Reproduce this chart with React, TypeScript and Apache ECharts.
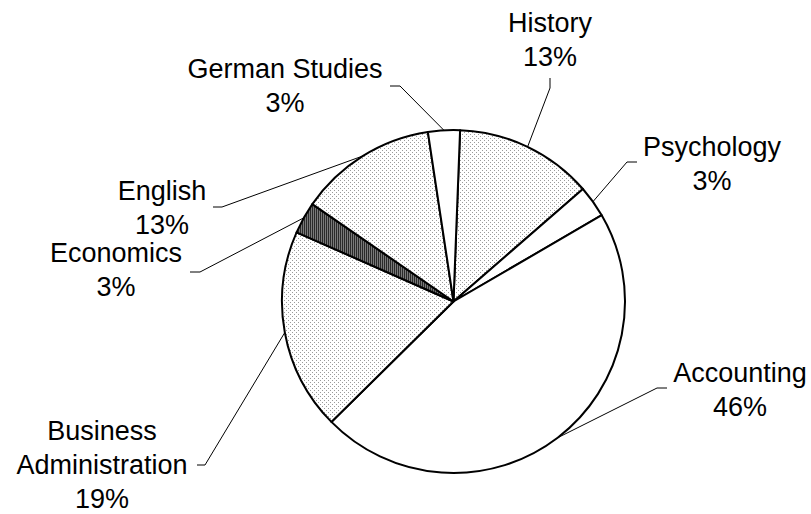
import React, { useEffect, useRef } from "react";
import * as echarts from "echarts";

// Data (clockwise from 12 o'clock)
const categories = [
  "History",
  "Psychology",
  "Accounting",
  "Business Administration",
  "Economics",
  "English",
  "German Studies",
];
const shares = [13, 3, 46, 19, 3, 13, 3];
const fillKinds = ["dots", "plain", "plain", "dots", "stripes", "dots", "plain"];

// Label placement (text block centre x, top y, leader knee and end)
const labelPlacement = [
  { cx: 550, top: 6, kx: 550, ky: 88, ex: 550, ey: 78 },
  { cx: 712, top: 130, kx: 627, ky: 162, ex: 637, ey: 162 },
  { cx: 740, top: 356, kx: 657, ky: 388, ex: 667, ey: 388 },
  { cx: 102, top: 414, kx: 205, ky: 465, ex: 197, ey: 465 },
  { cx: 116, top: 236, kx: 200, ky: 272, ex: 190, ey: 272 },
  { cx: 162, top: 174, kx: 222, ky: 207, ex: 213, ey: 207 },
  { cx: 285, top: 52, kx: 400, ky: 86, ex: 390, ey: 86 },
];

function makeTile(kind: string): string {
  const c = document.createElement("canvas");
  if (kind === "dots") {
    c.width = 4;
    c.height = 4;
    const g = c.getContext("2d")!;
    g.fillStyle = "#ffffff";
    g.fillRect(0, 0, 4, 4);
    g.fillStyle = "#9a9a9a";
    g.fillRect(0, 0, 1, 1);
    g.fillRect(2, 2, 1, 1);
  } else {
    c.width = 2;
    c.height = 2;
    const g = c.getContext("2d")!;
    g.fillStyle = "#2a2a2a";
    g.fillRect(0, 0, 1, 2);
    g.fillStyle = "#7a7a7a";
    g.fillRect(1, 0, 1, 2);
  }
  return c.toDataURL();
}

export default function App() {
  const ref = useRef<HTMLDivElement>(null);
  useEffect(() => {
    if (!ref.current) return;
    const chart = echarts.init(ref.current, undefined, { renderer: "svg" });
    const dotsUrl = makeTile("dots");
    const stripesUrl = makeTile("stripes");
    const colorFor = (k: string): any => {
      if (k === "dots") return { image: dotsUrl, repeat: "repeat" };
      if (k === "stripes") return { image: stripesUrl, repeat: "repeat" };
      return "#ffffff";
    };
    chart.setOption({
      animation: false,
      backgroundColor: "#ffffff",
      series: [
        {
          type: "pie",
          center: [453.5, 301.5],
          radius: [0, 171.5],
          startAngle: 87.8,
          clockwise: true,
          avoidLabelOverlap: false,
          data: categories.map((name, i) => ({
            name,
            value: shares[i],
            itemStyle: { color: colorFor(fillKinds[i]) },
          })),
          itemStyle: { borderColor: "#000000", borderWidth: 2 },
          emphasis: { disabled: true },
          label: {
            show: true,
            position: "outside",
            color: "#000000",
            fontFamily: "Liberation Sans, Arial, sans-serif",
            fontSize: 27,
            lineHeight: 34,
            align: "center",
            formatter: (p: any) =>
              `${String(p.name).replace("Business ", "Business\n")}\n${Math.round(p.percent)}%`,
          },
          labelLine: {
            show: true,
            lineStyle: { color: "#000000", width: 1 },
          },
          labelLayout: (params: any) => {
            const L = labelPlacement[params.dataIndex];
            const p0 = params.labelLinePoints
              ? params.labelLinePoints[0]
              : [L.kx, L.ky];
            return {
              x: L.cx,
              y: L.top,
              align: "center",
              verticalAlign: "top",
              labelLinePoints: [p0, [L.kx, L.ky], [L.ex, L.ey]],
            };
          },
        },
      ],
    });
    return () => chart.dispose();
  }, []);
  return (
    <div
      ref={ref}
      style={{ position: "fixed", left: 0, top: 0, width: 811, height: 514 }}
    />
  );
}
